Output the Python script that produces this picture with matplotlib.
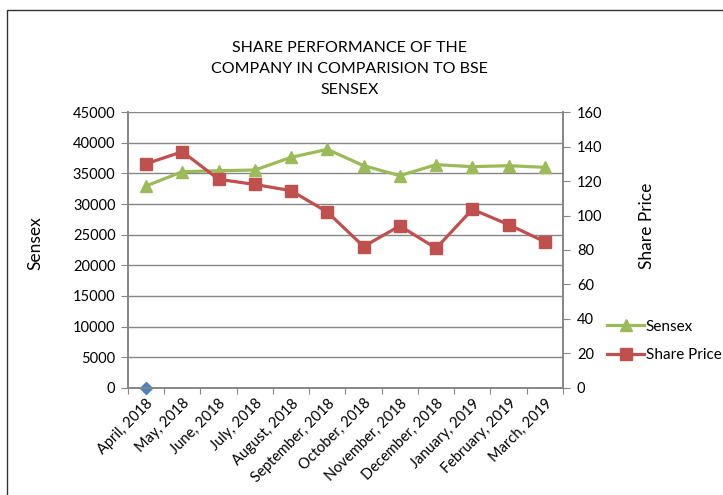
import matplotlib.pyplot as plt
from matplotlib.patches import Rectangle

plt.rcParams['font.family'] = ['Lato', 'DejaVu Sans']

months = ["April, 2018", "May, 2018", "June, 2018", "July, 2018", "August, 2018",
          "September, 2018", "October, 2018", "November, 2018", "December, 2018",
          "January, 2019", "February, 2019", "March, 2019"]
sensex = [32940, 35270, 35430, 35540, 37610, 38910, 36250, 34620, 36410, 36090, 36250, 35980]
share_price = [130, 137, 121, 118, 114.4, 102, 82, 94, 81, 103.6, 94.7, 84.8]
blank_series = [0]

fig = plt.figure(figsize=(7.23, 4.95), dpi=100)
ax = fig.add_axes([0.177, 0.2162, 0.6017, 0.5575])
ax2 = ax.twinx()

x = list(range(len(months)))
gray = '#868686'

ax.plot(x[:1], blank_series, marker='D', color='#4F81BD', markersize=6, linestyle='none', zorder=5, clip_on=False)
l1, = ax.plot(x, sensex, color='#9BBB59', linewidth=2.3, marker='^', markersize=8, label='Sensex')
l2, = ax2.plot(x, share_price, color='#C0504D', linewidth=2.3, marker='s', markersize=8, label='Share Price')

ax.set_xlim(-0.5, 11.5)
ax.set_ylim(0, 45000)
ax.set_yticks(range(0, 45001, 5000))
ax2.set_ylim(0, 160)
ax2.set_yticks(range(0, 161, 20))

ax.yaxis.grid(True, color=gray, linewidth=1)
ax.set_axisbelow(True)

ax.set_xticks([i - 0.5 for i in range(13)])
ax.set_xticklabels([])
ax.set_xticks(x, minor=True)
ax.set_xticklabels(months, minor=True, rotation=45, ha='right', rotation_mode='anchor', fontsize=10.5)
ax.tick_params(axis='x', which='minor', length=0, pad=6)
ax.tick_params(axis='x', which='major', length=4, color=gray, direction='out')
ax.tick_params(axis='y', length=5, color=gray, labelsize=10.5, pad=4)
ax2.tick_params(axis='y', length=5, color=gray, labelsize=10.5, pad=5)

for a in (ax, ax2):
    a.spines['top'].set_visible(False)
    for s in ('left', 'right', 'bottom'):
        a.spines[s].set_color(gray)
        a.spines[s].set_linewidth(1.2)

ax.set_ylabel('Sensex', fontsize=12.5)
ax.yaxis.set_label_coords(-0.195, 0.525)
ax2.set_ylabel('Share Price', fontsize=12.5)
ax2.yaxis.set_label_coords(1.175, 0.587)

fig.text(0.484, 0.918, 'SHARE PERFORMANCE OF THE\nCOMPANY IN COMPARISION TO BSE\nSENSEX',
         ha='center', va='top', fontsize=11.5, linespacing=1.65)

fig.legend([l1, l2], ['Sensex', 'Share Price'], loc='upper left', bbox_to_anchor=(0.84, 0.354),
           frameon=False, fontsize=11, handlelength=2.4, handletextpad=0.1, labelspacing=0.95,
           borderaxespad=0, borderpad=0)

fig.patches.append(Rectangle((7 / 723, -0.05), 1.0, 1 - 10 / 495 + 0.05, transform=fig.transFigure,
                             fill=False, edgecolor='#333333', linewidth=1))

fig.savefig('out.png', dpi=100)
